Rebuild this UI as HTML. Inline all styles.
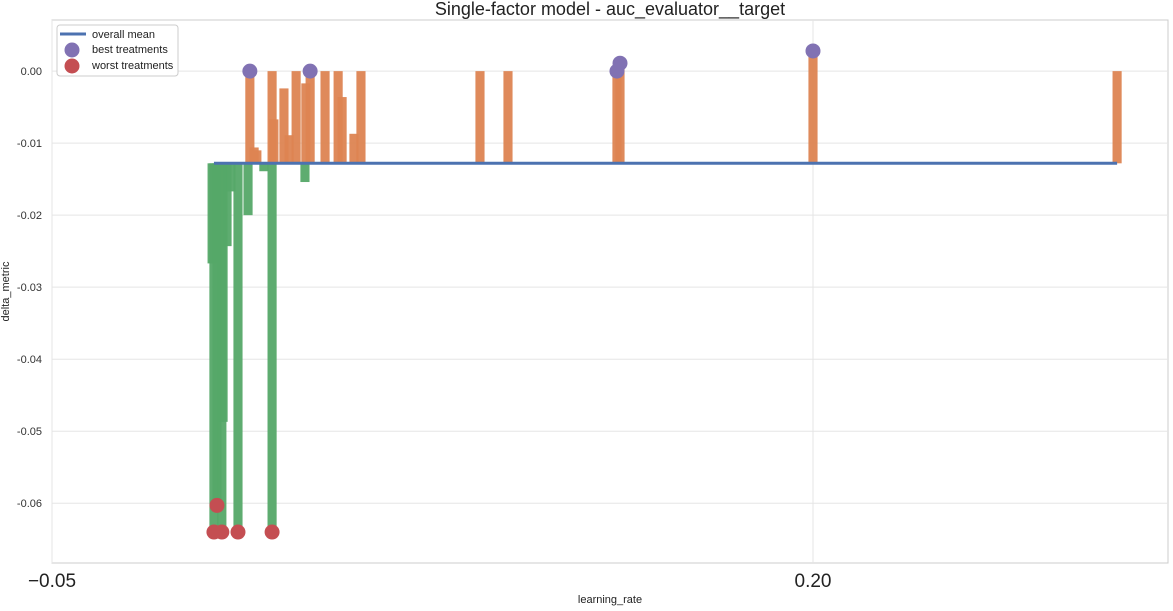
<!DOCTYPE html>
<html><head><meta charset="utf-8"><style>
body{margin:0;background:#fff;font-family:"Liberation Sans",sans-serif}
</style></head><body>
<svg id="c" width="1173" height="606" xmlns="http://www.w3.org/2000/svg"></svg>
<script>
const meanValue = -0.0128;
const barX = [0.0026,0.0032,0.0042,0.0058,0.0062,0.0075,0.0088,0.0111,0.0144,0.0196,0.0331,0.0223,
  0.0150,0.0164,0.0173,0.0223,0.0229,0.0262,0.0279,0.0302,0.0334,0.0348,0.0397,0.0440,0.0453,0.0492,0.0515,0.0906,0.0998,0.1356,0.1366,0.2000,0.2999];
const barY = [-0.0267,-0.064,-0.0603,-0.064,-0.0487,-0.0243,-0.0167,-0.064,-0.020,-0.0139,-0.0154,-0.064,
  0.0,-0.0106,-0.011,0.0,-0.0067,-0.0024,-0.0089,0.0,-0.0017,0.0,0.0,0.0,-0.0036,-0.0087,0.0,0.0,0.0,0.0,0.0011,0.0028,0.0];
const bestX = [0.0150,0.0348,0.1356,0.1366,0.2000];
const bestY = [0.0,0.0,0.0,0.0011,0.0028];
const worstX = [0.0032,0.0042,0.0058,0.0111,0.0223];
const worstY = [-0.064,-0.0603,-0.064,-0.064,-0.064];
const yTicks = [0.00,-0.01,-0.02,-0.03,-0.04,-0.05,-0.06];
const yTickLabels = ["0.00","-0.01","-0.02","-0.03","-0.04","-0.05","-0.06"];
const xTicks = [-0.05,0.20];
const xTickLabels = ["\u22120.05","0.20"];

const L=52,R=1168,T=20,B=563;
const xMin=-0.05,xMax=-0.05+(R-L)/3044;
const yMax=0.0071,yMin=-0.0683;
const sx=v=>L+(v-xMin)/(xMax-xMin)*(R-L);
const sy=v=>T+(yMax-v)/(yMax-yMin)*(B-T);
const svg=document.getElementById('c');
const NS='http://www.w3.org/2000/svg';
function mk(tag,attrs,name,txt){const e=document.createElementNS(NS,tag);for(const k in attrs)e.setAttribute(k,attrs[k]);


if(txt!==undefined)e.textContent=txt;svg.appendChild(e);return e;}
mk('rect',{x:L,y:T,width:R-L,height:B-T,fill:'#fff',stroke:'#ccc','stroke-width':1},'plot-area');
yTicks.forEach((t,i)=>{const y=sy(t);
 mk('line',{x1:L,x2:R,y1:y,y2:y,stroke:'#e5e5e5','stroke-width':1},'y-gridline');
 mk('text',{x:L-10,y:y+4,'text-anchor':'end','font-size':11,fill:'#333'},'y-tick-label',yTickLabels[i]);});
xTicks.forEach((t,i)=>{const x=sx(t);
 mk('line',{x1:x,x2:x,y1:T,y2:B,stroke:'#e5e5e5','stroke-width':1},'x-gridline');
 mk('text',{x:x,y:B+24,'text-anchor':'middle','font-size':19,fill:'#222'},'x-tick-label',xTickLabels[i]);});
const bw=sx(0.003)-sx(0);
barX.forEach((v,i)=>{const y0=sy(meanValue),y1=sy(barY[i]);
 mk('rect',{x:sx(v)-bw/2,y:Math.min(y0,y1),width:bw,height:Math.abs(y1-y0),fill:barY[i]>meanValue?'#dd8452':'#55a868',opacity:0.95},barY[i]>meanValue?'bar-above-mean':'bar-below-mean');});
mk('line',{x1:sx(0.0032),x2:sx(0.2999),y1:sy(meanValue),y2:sy(meanValue),stroke:'#4c72b0','stroke-width':3},'overall-mean-line');
bestX.forEach((v,i)=>mk('circle',{cx:sx(v),cy:sy(bestY[i]),r:7.5,fill:'#8172b3'},'best-treatment-point'));
worstX.forEach((v,i)=>mk('circle',{cx:sx(v),cy:sy(worstY[i]),r:7.5,fill:'#c44e52'},'worst-treatment-point'));
mk('text',{x:(L+R)/2,y:15,'text-anchor':'middle','font-size':18,fill:'#222'},'chart-title','Single-factor model - auc_evaluator__target');
mk('text',{x:(L+R)/2,y:603,'text-anchor':'middle','font-size':11,fill:'#222'},'x-axis-title','learning_rate');
mk('text',{x:9,y:(T+B)/2,'text-anchor':'middle','font-size':11,fill:'#222',transform:`rotate(-90 9 ${(T+B)/2})`},'y-axis-title','delta_metric');
mk('rect',{x:57,y:25,width:121,height:51,fill:'#fff',stroke:'#ccc',rx:3},'legend');
mk('line',{x1:60,x2:86,y1:34,y2:34,stroke:'#4c72b0','stroke-width':3},'legend-mean-swatch');
mk('text',{x:92,y:38,'font-size':11,fill:'#222'},'legend-entry-mean','overall mean');
mk('circle',{cx:72,cy:50,r:7.5,fill:'#8172b3'},'legend-best-swatch');
mk('text',{x:92,y:53,'font-size':11,fill:'#222'},'legend-entry-best','best treatments');
mk('circle',{cx:72,cy:66,r:7.5,fill:'#c44e52'},'legend-worst-swatch');
mk('text',{x:92,y:69,'font-size':11,fill:'#222'},'legend-entry-worst','worst treatments');
</script>
</body></html>
